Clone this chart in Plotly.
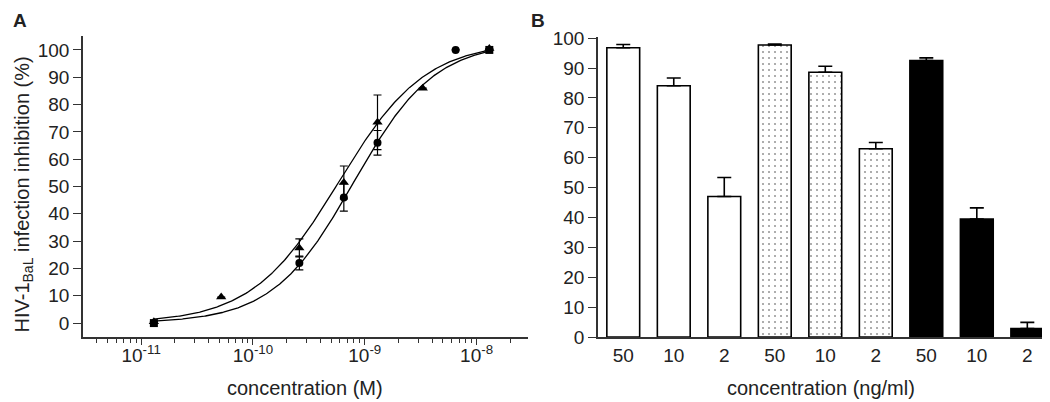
import numpy as np
import plotly.graph_objects as go

# ---------------- Panel A data ----------------
conc_tri = [1.3e-11, 5.2e-11, 2.6e-10, 6.5e-10, 1.3e-9, 3.3e-9, 1.3e-8]
inh_tri = [0.5, 9.5, 27.5, 51.5, 73.5, 86.0, 100.5]
err_tri = [0, 0, 3.3, 6.0, 10.0, 0, 0]

conc_cir = [1.3e-11, 2.6e-10, 6.5e-10, 1.3e-9, 6.5e-9, 1.3e-8]
inh_cir = [0.0, 22.0, 46.0, 66.0, 100.0, 100.0]
err_cir = [0, 2.5, 5.0, 4.5, 0, 0]
sym_cir = ["square", "circle", "circle", "circle", "circle", "square"]

# 4-parameter logistic fit parameters (bottom, top, logEC50, hill)
fit_tri = dict(bottom=0.0, top=103.0, logec50=-9.235, hill=1.12)
fit_cir = dict(bottom=0.0, top=103.0, logec50=-9.10, hill=1.2)
fit_range = (1.3e-11, 1.3e-8)

x_tickvals = [1e-11, 1e-10, 1e-9, 1e-8]
x_ticktext = ["10<sup>-11</sup>", "10<sup>-10</sup>", "10<sup>-9</sup>", "10<sup>-8</sup>"]

# ---------------- Panel B data ----------------
bar_labels = ["50", "10", "2", "50", "10", "2", "50", "10", "2"]
bar_values = [96.8, 84.1, 47.0, 97.7, 88.6, 63.0, 92.5, 39.5, 2.8]
bar_errors = [1.1, 2.6, 6.4, 0.3, 2.0, 2.1, 0.9, 3.7, 2.1]
bar_groups = ["open", "open", "open", "dotted", "dotted", "dotted", "solid", "solid", "solid"]

FONT = "Liberation Sans, Arial, sans-serif"
fs = 19

# page has an 8px body margin: figure is 1042x394 placed at (8, 8)
OFF = 8
W, H = 1050 - OFF, 402 - OFF


def px(x):
    return (x - OFF) / W


def py(y):
    return 1 - (y - OFF) / H


fig = go.Figure()


def logistic(logx, p):
    return p["bottom"] + (p["top"] - p["bottom"]) / (1 + 10 ** ((p["logec50"] - logx) * p["hill"]))


lx = np.linspace(np.log10(fit_range[0]), np.log10(fit_range[1]), 300)
for p in (fit_tri, fit_cir):
    fig.add_trace(go.Scatter(x=10 ** lx, y=logistic(lx, p), mode="lines",
                             line=dict(color="black", width=1.3),
                             xaxis="x", yaxis="y", showlegend=False, hoverinfo="skip"))

fig.add_trace(go.Scatter(x=conc_tri, y=inh_tri, mode="markers",
                         marker=dict(symbol="triangle-up", size=9, color="black"),
                         error_y=dict(type="data", array=err_tri, color="black", thickness=1.2, width=4),
                         xaxis="x", yaxis="y", showlegend=False))
fig.add_trace(go.Scatter(x=conc_cir, y=inh_cir, mode="markers",
                         marker=dict(symbol=sym_cir, size=8, color="black"),
                         error_y=dict(type="data", array=err_cir, color="black", thickness=1.2, width=4),
                         xaxis="x", yaxis="y", showlegend=False))

# ---------------- Panel B bars ----------------
styles = {
    "open": dict(color="white", pattern=dict(shape="")),
    "dotted": dict(color="white", pattern=dict(shape=".", fgcolor="#333333", bgcolor="white",
                                                 size=6, solidity=0.1, fillmode="overlay")),
    "solid": dict(color="black", pattern=dict(shape="")),
}
xs = list(range(len(bar_labels)))
for g in ["open", "dotted", "solid"]:
    idx = [i for i, gg in enumerate(bar_groups) if gg == g]
    st = styles[g]
    fig.add_trace(go.Bar(x=[xs[i] for i in idx], y=[bar_values[i] for i in idx],
                         width=0.65,
                         marker=dict(color=st["color"], pattern=st["pattern"],
                                     line=dict(color="black", width=1.6)),
                         error_y=dict(type="data", symmetric=False,
                                      array=[bar_errors[i] for i in idx],
                                      arrayminus=[0] * len(idx),
                                      color="black", thickness=1.6, width=7),
                         xaxis="x2", yaxis="y2", showlegend=False))

axis_common = dict(showline=True, linecolor="#333333", linewidth=1.6, showgrid=False,
                   zeroline=False, ticks="outside", tickcolor="#333333", automargin=False,
                   tickfont=dict(family=FONT, size=fs, color="#222222"))

fig.update_layout(
    width=W, height=H,
    margin=dict(l=0, r=0, t=0, b=0, autoexpand=False),
    paper_bgcolor="white", plot_bgcolor="white",
    barmode="overlay",
    xaxis=dict(axis_common, type="log", domain=[px(83), px(528)],
               range=[-11.52, -7.54], tickvals=x_tickvals, ticktext=x_ticktext,
               ticklen=6, ticklabelstandoff=-6, anchor="y",
               minor=dict(ticks="outside", ticklen=4, dtick="D1", tickcolor="#333333", showgrid=False)),
    yaxis=dict(axis_common, domain=[py(337), py(36)], range=[-5.1, 105.1],
               tickvals=list(range(0, 101, 10)), ticklen=8, anchor="x"),
    xaxis2=dict(axis_common, domain=[px(598), px(1045)], range=[-0.5, 8.35],
                tickvals=xs, ticktext=bar_labels, ticks="", anchor="y2"),
    yaxis2=dict(axis_common, domain=[py(337), py(37)], range=[0, 100.4],
                tickvals=list(range(0, 101, 10)), ticklen=8, anchor="x2"),
)

ann = [
    dict(text="<b>A</b>", x=20, y=OFF, yanchor="top", font=dict(size=19)),
    dict(text="<b>B</b>", x=538, y=OFF, yanchor="top", font=dict(size=19)),
    dict(text="concentration (M)", x=305, y=388, font=dict(size=20)),
    dict(text="concentration (ng/ml)", x=821, y=388, font=dict(size=20)),
    dict(text="HIV-1<sub>BaL</sub> infection inhibition (%)", x=OFF, y=195, textangle=-90,
         xanchor="left", font=dict(size=20)),
]
for a in ann:
    f = dict(family=FONT, color="#222222")
    f.update(a.pop("font"))
    fig.add_annotation(xref="paper", yref="paper", x=px(a.pop("x")), y=py(a.pop("y")),
                       xanchor=a.pop("xanchor", "center"), yanchor=a.pop("yanchor", "middle"),
                       showarrow=False, font=f, **a)

fig.write_html("out.html")
